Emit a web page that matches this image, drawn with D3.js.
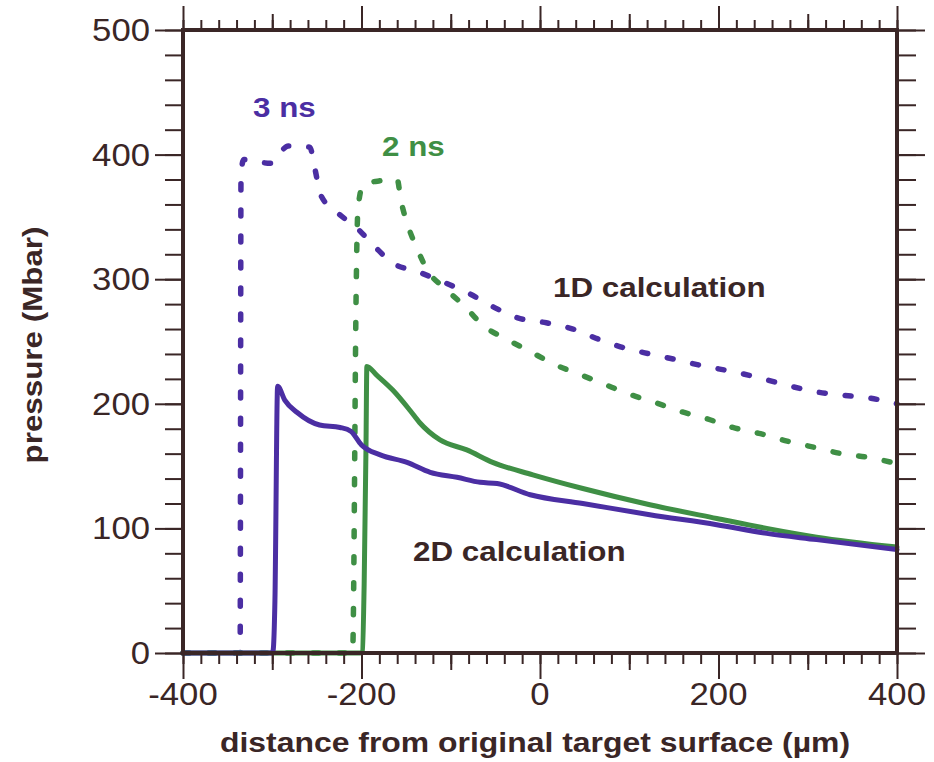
<!DOCTYPE html>
<html>
<head>
<meta charset="utf-8">
<script src="https://cdn.jsdelivr.net/npm/d3@7"></script>
<style>
  body { margin: 0; background: #fff; }
  .tick line { stroke: #3a2626; stroke-width: 2; }
  text { font-family: "Liberation Sans", Arial, sans-serif; fill: #3a2626; }
</style>
</head>
<body>
<div id="chart"></div>
<script>
// 1D calculation (dashed)
const dist1D3ns = [-400, -336, -335, -332, -302, -282, -258, -252, -246, -228, -205, -185, -165, -137, -106, -78, -53, -25, 7, 37, 65, 94, 123, 155, 185, 215, 245, 276, 306, 337, 366, 400];
const pres1D3ns = [0, 0, 384, 396, 393, 407, 406, 388, 368, 354, 341, 326, 313, 306, 297, 288, 278, 269, 265, 260, 252, 245, 240, 235, 230, 226, 221, 215, 210, 207, 205, 200];
const dist1D2ns = [-400, -210, -206, -205, -204, -198, -179, -160, -156, -148, -138, -126, -107, -84, -64, -38, -11, 15, 43, 71, 99, 129, 157, 187, 216, 247, 277, 308, 338, 368, 400];
const pres1D2ns = [0, 0, 289, 335, 356, 376, 379, 380, 364, 343, 325, 307, 293, 278, 263, 252, 242, 232, 224, 216, 208, 201, 194, 188, 181, 176, 170, 165, 160, 157, 152];
// 2D calculation (solid)
const dist2D3ns = [-400, -300, -299, -297, -294, -286, -272, -247, -224, -212, -200, -179, -149, -123, -93, -67, -48, -11, 48, 123, 198, 254, 310, 400];
const pres2D3ns = [0, 0, 2, 42, 214, 203, 193, 183, 181, 178, 167, 159, 153, 145, 141, 137, 136, 127, 120, 111, 103, 96, 91, 83];
const dist2D2ns = [-400, -201, -199, -197, -195, -194, -183, -165, -146, -135, -112, -82, -53, -8, 48, 123, 198, 254, 310, 400];
const pres2D2ns = [0, 0, 1, 56, 163, 230, 223, 211, 195, 185, 171, 163, 153, 143, 132, 119, 108, 100, 93, 85];

const xTickLabels = [-400, -200, 0, 200, 400];
const yTickLabels = [0, 100, 200, 300, 400, 500];

const purple = "#4b2ea3";
const green = "#3f8f45";
const ink = "#3a2626";
const sx = 1.12; // glyphs in the scan are a bit wide

const svg = d3.select("#chart").append("svg")
  .attr("width", 934)
  .attr("height", 762);

const x = d3.scaleLinear().domain([-400, 400]).range([183, 897]);
const y = d3.scaleLinear().domain([0, 500]).range([653, 30]);

const line = d3.line()
  .x(d => x(d[0]))
  .y(d => y(d[1]))
  .curve(d3.curveMonotoneX);

const zip = (a, b) => a.map((v, i) => [v, b[i]]);

const series = [
  {xs: dist1D3ns, ys: pres1D3ns, color: purple, dashed: true},
  {xs: dist1D2ns, ys: pres1D2ns, color: green, dashed: true},
  {xs: dist2D2ns, ys: pres2D2ns, color: green, dashed: false},
  {xs: dist2D3ns, ys: pres2D3ns, color: purple, dashed: false}
];

series.forEach(s => {
  svg.append("path")
    .datum(zip(s.xs, s.ys))
    .attr("d", line)
    .attr("fill", "none")
    .attr("stroke", s.color)
    .attr("stroke-width", s.dashed ? 5.5 : 5)
    .attr("stroke-linecap", "round")
    .attr("stroke-linejoin", "round")
    .attr("stroke-dasharray", s.dashed ? "6 20" : null);
});

// tick marks, major / medium / minor
const every = (a, b, step) => d3.range(a, b + 0.1, step);
const ticks = (axis, values, size, tr) => {
  svg.append("g")
    .attr("transform", tr)
    .call(axis.tickValues(values).tickSize(size).tickFormat(""))
    .call(g => g.select(".domain").remove());
};

ticks(d3.axisLeft(y), every(0, 500, 20), 18, "translate(183,0)");
ticks(d3.axisLeft(y), every(0, 500, 100), 28, "translate(183,0)");
ticks(d3.axisRight(y), every(0, 500, 20), 19, "translate(897,0)");
ticks(d3.axisRight(y), every(0, 500, 100), 28, "translate(897,0)");

ticks(d3.axisBottom(x), every(-400, 400, 20), 11, "translate(0,653)");
ticks(d3.axisBottom(x), every(-300, 400, 200), 17, "translate(0,653)");
ticks(d3.axisBottom(x), every(-400, 400, 200), 26, "translate(0,653)");
ticks(d3.axisTop(x), every(-400, 400, 20), 10, "translate(0,30)");
ticks(d3.axisTop(x), every(-300, 400, 200), 16, "translate(0,30)");
ticks(d3.axisTop(x), every(-400, 400, 200), 24, "translate(0,30)");

// frame
svg.append("rect")
  .attr("x", 183).attr("y", 30)
  .attr("width", 897 - 183).attr("height", 653 - 30)
  .attr("fill", "none")
  .attr("stroke", ink)
  .attr("stroke-width", 4);

// tick labels
svg.append("g").selectAll("text")
  .data(yTickLabels)
  .join("text")
  .attr("transform", d => `translate(150,${y(d) + 11}) scale(${sx},1)`)
  .attr("text-anchor", "end")
  .attr("font-size", 31)
  .text(d => d);

svg.append("g").selectAll("text")
  .data(xTickLabels)
  .join("text")
  .attr("transform", d => `translate(${x(d)},705) scale(${sx},1)`)
  .attr("text-anchor", "middle")
  .attr("font-size", 31)
  .text(d => d);

// axis titles
svg.append("text")
  .attr("transform", `translate(535,752) scale(${sx},1)`)
  .attr("text-anchor", "middle")
  .attr("font-size", 28.5)
  .attr("font-weight", "bold")
  .text("distance from original target surface (\u00b5m)");

svg.append("text")
  .attr("transform", `translate(42,345) rotate(-90) scale(${sx},1)`)
  .attr("text-anchor", "middle")
  .attr("font-size", 28)
  .attr("font-weight", "bold")
  .text("pressure (Mbar)");

// annotations
const notes = [
  {t: "3 ns", x: 253, y: 117, c: purple},
  {t: "2 ns", x: 382, y: 156, c: green},
  {t: "1D calculation", x: 553, y: 297, c: ink},
  {t: "2D calculation", x: 413, y: 561, c: ink}
];
svg.append("g").selectAll("text")
  .data(notes)
  .join("text")
  .attr("transform", d => `translate(${d.x},${d.y}) scale(${sx},1)`)
  .attr("font-size", 28)
  .attr("font-weight", "bold")
  .style("fill", d => d.c)
  .text(d => d.t);
</script>
</body>
</html>
